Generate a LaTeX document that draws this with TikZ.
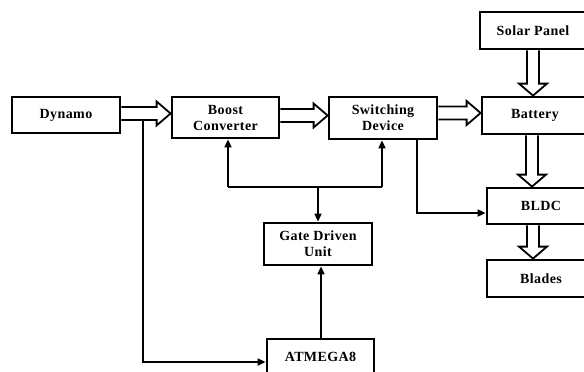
\documentclass[tikz,border=0pt]{standalone}
\usepackage{fontspec}
\setmainfont{Liberation Serif}[LetterSpace=3]
\usetikzlibrary{calc,arrows.meta}
\tikzset{
  blk/.style={draw, line width=2.8pt, rectangle, inner sep=0pt, align=center,
    font=\fontsize{14}{16}\selectfont\bfseries},
  hollow/.style={draw, line width=1.8pt, line join=miter, fill=white},
  arr/.style={draw, line width=1.8pt, -{Triangle[length=8pt,width=7pt]}},
  wire/.style={draw, line width=1.8pt}
}
\newcommand\hollowH[3]{\draw[hollow] let \p1=(#1.east), \p2=(#2.west) in
  (\x1,{-#3pt+6.5pt}) -- (\x2-14pt,{-#3pt+6.5pt}) -- (\x2-14pt,{-#3pt+12pt}) -- (\x2,{-#3pt})
  -- (\x2-14pt,{-#3pt-12pt}) -- (\x2-14pt,{-#3pt-6.5pt}) -- (\x1,{-#3pt-6.5pt});}
\newcommand\hollowV[3]{\draw[hollow] let \p1=(#1.south), \p2=(#2.north) in
  ({#3pt-6pt},\y1) -- ({#3pt-6pt},\y2+12pt) -- ({#3pt-14pt},\y2+12pt) -- ({#3pt},\y2)
  -- ({#3pt+14pt},\y2+12pt) -- ({#3pt+6pt},\y2+12pt) -- ({#3pt+6pt},\y1);}
\begin{document}
\begin{tikzpicture}[x=1pt,y=-1pt]
\useasboundingbox (0,0) rectangle (584,372);
\clip (0,0) rectangle (584,372);
\node[blk, minimum width=108pt, minimum height=36pt] (dyn) at (66,115) {Dynamo};
\node[blk, minimum width=107pt, minimum height=41pt] (boost) at (225.5,117.5) {Boost\\Converter};
\node[blk, minimum width=108pt, minimum height=42pt] (sw) at (383,118) {Switching\\Device};
\node[blk, minimum width=106pt, minimum height=37pt] (solar) at (533,30.5) {Solar Panel};
\node[blk, minimum width=106pt, minimum height=37pt] (bat) at (535,115.5) {Battery};
\node[blk, minimum width=108pt, minimum height=36pt] (bldc) at (541,206) {BLDC};
\node[blk, minimum width=108pt, minimum height=37pt] (blades) at (541,278.5) {Blades};
\node[blk, minimum width=108pt, minimum height=42pt] (gate) at (318,244) {Gate Driven\\Unit};
\node[blk, minimum width=107pt, minimum height=36pt] (atm) at (320.5,357) {ATMEGA8};

\hollowH{dyn}{boost}{113.5}
\hollowH{boost}{sw}{115.5}
\hollowH{sw}{bat}{113}
\hollowV{solar}{bat}{533}
\hollowV{bat}{bldc}{532}
\hollowV{bldc}{blades}{533}

\coordinate (tap) at (143,120);
\coordinate (busL) at (228,187);
\coordinate (busR) at (382,187);
\coordinate (busM) at (318,187);
\draw[arr] (tap) |- ([yshift=-5pt]atm.west);
\draw[wire] (busL) -- (busR);
\draw[arr] (busL) -- (busL |- boost.south);
\draw[arr] (busR) -- (busR |- sw.south);
\draw[arr] (busM) -- (gate.north);
\draw[arr] ([xshift=0.5pt]atm.north) -- ([xshift=0.5pt]atm.north |- gate.south);
\draw[arr] ([xshift=34pt]sw.south) |- ([yshift=-7pt]bldc.west);
\end{tikzpicture}
\end{document}
